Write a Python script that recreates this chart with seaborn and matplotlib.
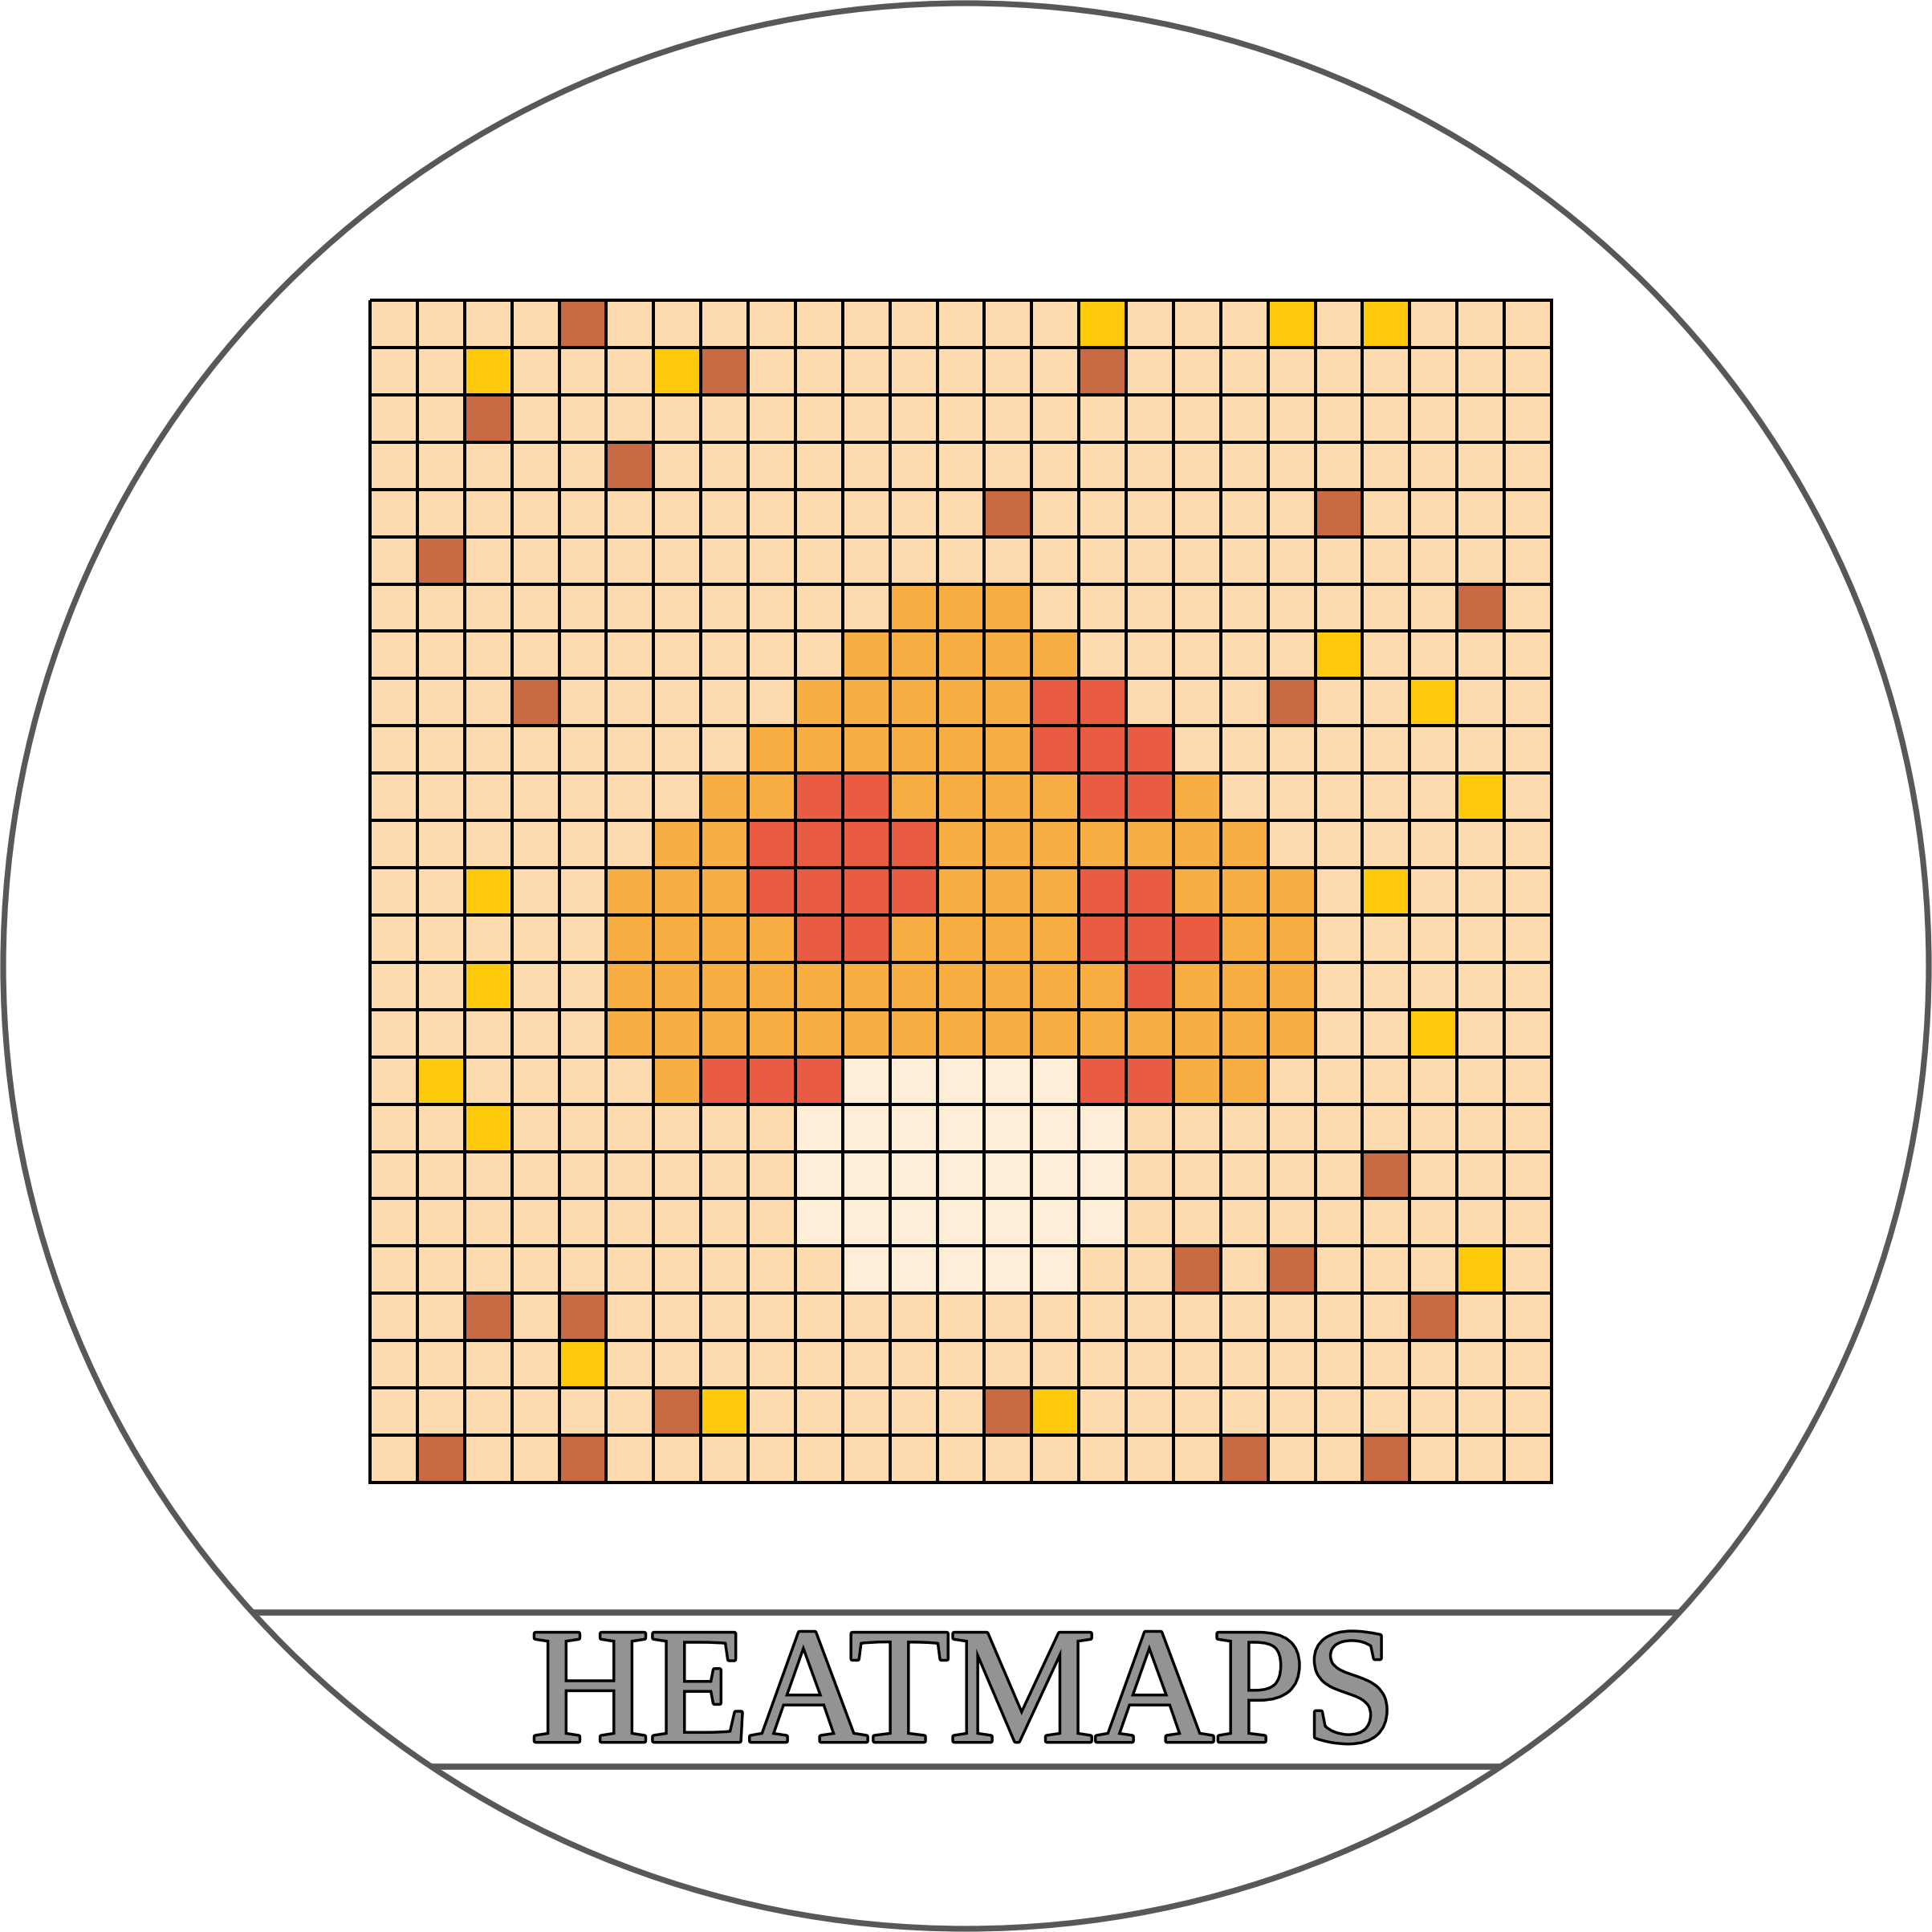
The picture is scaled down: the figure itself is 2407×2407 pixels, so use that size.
"""
plot.py - HEATMAPS badge
Round badge with a 25x25 category heatmap and a title banner.
"""

import numpy as np
import matplotlib
matplotlib.use("Agg")
import matplotlib.pyplot as plt
import matplotlib.patheffects as pe
from matplotlib import font_manager
from matplotlib.colors import ListedColormap
from matplotlib.patches import Circle
import seaborn as sns

# --- data -------------------------------------------------------------
# one character per cell: c=cream, .=peach, y=yellow, o=orange, r=red, b=brown
categories = ["c", ".", "y", "o", "r", "b"]
category_colors = ["#FEEED7", "#FDDBAE", "#FECA0B", "#F9AE43", "#EA5B43", "#C86A43"]

grid_rows = [
    "....b..........y...y.y...",
    "..y...yb.......b.........",
    "..b......................",
    ".....b...................",
    ".............b......b....",
    ".b.......................",
    "...........ooo.........b.",
    "..........ooooo.....y....",
    "...b.....ooooorr...b..y..",
    "........oooooorrr........",
    ".......oorroooorro.....y.",
    "......oorrrrooooooo......",
    "..y..ooorrrrooorrooo.y...",
    ".....oooorroooorrroo.....",
    "..y..ooooooooooorooo.....",
    ".....ooooooooooooooo..y..",
    ".y....orrrcccccrroo......",
    "..y......ccccccc.........",
    ".........ccccccc.....b...",
    ".........ccccccc.........",
    "..........ccccc..b.b...y.",
    "..b.b.................b..",
    "....y....................",
    "......by.....by..........",
    ".b..b.............b..b...",
]

title = "HEATMAPS"


def serif_family():
    """Pick a Times-like serif from what matplotlib knows about."""
    known = {f.name for f in font_manager.fontManager.ttflist}
    for name in ["Liberation Serif", "Noto Serif", "Times New Roman",
                 "Tinos", "Nimbus Roman", "DejaVu Serif"]:
        if name in known:
            return name
    return "serif"


# --- figure -----------------------------------------------------------
W = 2407
fig = plt.figure(figsize=(W / 100, W / 100), dpi=100)
fig.patch.set_facecolor("white")

# background axes in pixel coordinates (y downwards)
bg = fig.add_axes([0, 0, 1, 1])
bg.set_xlim(0, W)
bg.set_ylim(W, 0)
bg.axis("off")

edge = "#585858"
cx = cy = W / 2
r = 1199.5
bg.add_patch(Circle((cx, cy), r, fill=False, edgecolor=edge, linewidth=5.2))

# banner lines, clipped to the circle
for y in [2009, 2201]:
    dx = np.sqrt(r ** 2 - (y - cy) ** 2)
    bg.plot([cx - dx, cx + dx], [y, y], color=edge, linewidth=5.5,
            solid_capstyle="butt")

family = serif_family()
size = 146 if family == "DejaVu Serif" else 147
bg.text(1200, 2169, title, ha="center", va="baseline",
        family=family, fontsize=size, color="#939393",
        path_effects=[pe.Stroke(linewidth=5, foreground="black"), pe.Normal()])

# --- heatmap ----------------------------------------------------------
codes = {c: i for i, c in enumerate(categories)}
matrix = np.array([[codes[ch] for ch in row] for row in grid_rows])

x0, x1, y0, y1 = 461, 1933, 374, 1847
ax = fig.add_axes([x0 / W, 1 - y1 / W, (x1 - x0) / W, (y1 - y0) / W])
sns.heatmap(matrix, cmap=ListedColormap(category_colors),
            vmin=-0.5, vmax=len(categories) - 0.5,
            cbar=False, linewidths=2.6, linecolor="black",
            xticklabels=False, yticklabels=False, ax=ax)
ax.collections[0].set_clip_on(False)

fig.savefig("out.png", dpi=100, facecolor="white")
plt.close(fig)
